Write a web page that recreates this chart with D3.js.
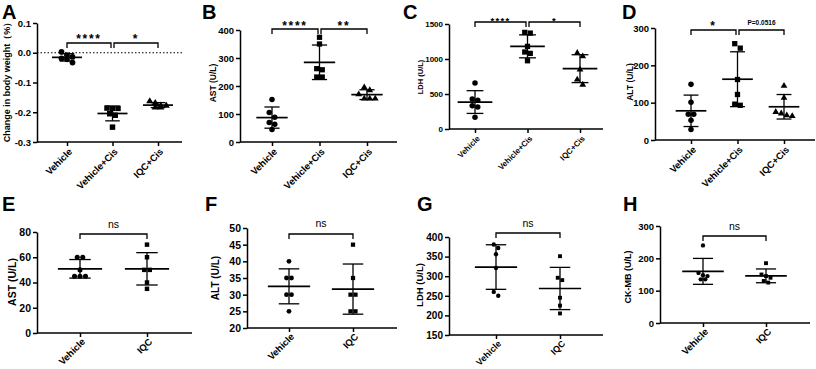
<!DOCTYPE html>
<html>
<head>
<meta charset="utf-8">
<script src="https://cdn.jsdelivr.net/npm/d3@7"></script>
<style>
  body { margin: 0; background: #fff; }
  svg { font-family: "Liberation Sans", Arial, sans-serif; font-weight: bold; }
</style>
</head>
<body>
<div id="chart"></div>
<script>

/* Data */
var catsThree = ["Vehicle", "Vehicle+Cis", "IQC+Cis"];
var catsTwo = ["Vehicle", "IQC"];

// A: change in body weight
var weightVehicle = [-0.014, -0.008, 0.003, -0.019, -0.022, -0.033];
var weightCis = [-0.187, -0.187, -0.186, -0.205, -0.21, -0.25];
var weightIqcCis = [-0.169, -0.178, -0.178, -0.163, -0.184, -0.184];
// B: AST
var astVehicle = [152, 105, 88, 70, 63, 45];
var astCis = [374, 350, 262, 258, 232, 232];
var astIqcCis = [195, 185, 170, 155, 155, 155];
// C: LDH
var ldhVehicle = [657, 410, 429, 333, 314, 167];
var ldhCis = [1380, 1370, 1180, 1080, 1100, 975];
var ldhIqcCis = [1086, 1038, 848, 705, 633];
// D: ALT
var altVehicle = [149, 101, 69, 69, 53, 28];
var altCis = [246, 258, 162, 122, 96, 93];
var altIqcCis = [145, 113, 75, 71, 66, 64];
// E-H: IQC alone
var astNormVehicle = [60, 60, 50, 45, 45, 45];
var astNormIqc = [70, 60, 50, 50, 40, 35];
var altNormVehicle = [40, 35, 35, 30, 30, 25];
var altNormIqc = [45, 35, 30, 30, 25, 25];
var ldhNormVehicle = [381, 372, 356, 321, 260, 250];
var ldhNormIqc = [351, 296, 290, 245, 225, 205];
var ckmbNormVehicle = [240, 155, 148, 145, 135, 135];
var ckmbNormIqc = [185, 150, 145, 140, 130, 125];

// tick values
var ticksA = [-0.3, -0.2, -0.1, 0, 0.1];
var ticksB = [0, 100, 200, 300, 400];
var ticksC = [0, 500, 1000, 1500];
var ticksD = [0, 100, 200, 300];
var ticksE = [0, 20, 40, 60, 80];
var ticksF = [20, 25, 30, 35, 40, 45, 50];
var ticksG = [150, 200, 250, 300, 350, 400];
var ticksH = [0, 100, 200, 300];

// significance labels
var sigA = ["****", "*"];
var sigB = ["****", "**"];
var sigC = ["****", "*"];
var sigD = ["*", "P=0.0516"];
var sigNs = ["ns"];


var svg = d3.select("#chart").append("svg")
  .attr("width", 816)
  .attr("height", 369);

var shapes = [d3.symbolCircle, d3.symbolSquare, d3.symbolTriangle];

// spread points that sit on the same height side by side (like a scatter dot plot)
function swarm(vals, y, d) {
  var idx = vals.map((v, i) => i).sort((a, b) => y(vals[a]) - y(vals[b]));
  var rows = [], cur = [];
  idx.forEach((i) => {
    if (cur.length && y(vals[i]) - y(vals[cur[0]]) > d) { rows.push(cur); cur = []; }
    cur.push(i);
  });
  if (cur.length) rows.push(cur);
  var off = vals.map(() => 0);
  rows.forEach((r) => r.forEach((i, k) => { off[i] = (k - (r.length - 1) / 2) * d; }));
  return off;
}

function drawPanel(p) {
  var g = svg.append("g");
  var x = d3.scalePoint().domain(p.cats).range([p.c0, p.c1]);
  var y = d3.scaleLinear().domain(p.domain).range([p.bottom, p.top]);
  var step = (p.c1 - p.c0) / (p.cats.length - 1);

  // panel letter
  g.append("text").attr("x", p.letter[0]).attr("y", p.letter[1])
    .attr("font-size", 20).text(p.id);

  // y axis
  var ya = g.append("g")
    .attr("transform", "translate(" + p.axX + ",0)")
    .call(d3.axisLeft(y).tickValues(p.ticks).tickSize(4).tickSizeOuter(0).tickFormat(p.fmt));
  ya.selectAll("text").attr("x", -6).attr("font-size", p.tickFont);

  // x axis
  var xa = g.append("g")
    .attr("transform", "translate(0," + p.bottom + ")")
    .call(d3.axisBottom(x).tickSize(4).tickSizeOuter(0));
  xa.select(".domain").remove();
  xa.append("line").attr("x1", p.axX).attr("x2", p.axEnd).attr("stroke", "#000").attr("stroke-width", 1.5);
  xa.selectAll("text")
    .attr("x", 0).attr("y", 0).attr("dy", "0.35em")
    .attr("text-anchor", "end")
    .attr("font-size", p.xFont)
    .attr("transform", "translate(3," + p.labOff + ") rotate(-45)");

  g.selectAll(".domain, .tick line").attr("stroke", "#000").attr("stroke-width", 1.5);
  g.selectAll(".tick text").attr("fill", "#000").attr("font-family", null).attr("font-weight", "bold");

  // y title
  g.append("text")
    .attr("transform", "translate(" + p.yTitle[0] + "," + p.yTitle[1] + ") rotate(-90)")
    .attr("text-anchor", "middle").attr("dy", "0.35em")
    .attr("font-size", p.yTitleFont)
    .text(p.yLabel);

  // zero reference line
  if (p.zeroLine) {
    g.append("line").attr("x1", p.axX).attr("x2", p.axEnd)
      .attr("y1", y(0)).attr("y2", y(0))
      .attr("stroke", "#000").attr("stroke-width", 1).attr("stroke-dasharray", "1.5,2");
  }

  // points + mean and SD
  p.series.forEach((vals, i) => {
    var cx = x(p.cats[i]);
    var off = swarm(vals, y, p.dot);
    g.append("g").selectAll("path").data(vals).enter()
      .append("path")
        .attr("d", d3.symbol().type(shapes[i]).size(p.symSize[i]))
        .attr("transform", (d, j) => "translate(" + (cx + off[j]) + "," + y(d) + ")")
        .attr("fill", "#000");

    var m = d3.mean(vals), s = d3.deviation(vals);
    var cap = step * 0.16, half = step * 0.33;
    var eb = g.append("g").attr("stroke", "#000").attr("stroke-width", 1.3);
    eb.append("line").attr("x1", cx).attr("x2", cx).attr("y1", y(m - s)).attr("y2", y(m + s));
    eb.append("line").attr("x1", cx - cap).attr("x2", cx + cap).attr("y1", y(m - s)).attr("y2", y(m - s));
    eb.append("line").attr("x1", cx - cap).attr("x2", cx + cap).attr("y1", y(m + s)).attr("y2", y(m + s));
    eb.append("line").attr("x1", cx - half).attr("x2", cx + half).attr("y1", y(m)).attr("y2", y(m))
      .attr("stroke-width", 1.7);
  });

  // significance brackets
  var n = p.cats.length;
  p.sig.forEach((lab, i) => {
    var x1 = x(p.cats[i]) + (i > 0 ? 1.5 : 0);
    var x2 = x(p.cats[i + 1]) - (i + 1 < n - 1 ? 1.5 : 0);
    g.append("path")
      .attr("d", "M" + x1 + "," + (p.brTop + 5) + "V" + p.brTop + "H" + x2 + "V" + (p.brTop + 5))
      .attr("fill", "none").attr("stroke", "#000").attr("stroke-width", 1.3);
    var t = g.append("text").attr("x", (x1 + x2) / 2).attr("text-anchor", "middle").text(lab);
    if (lab[0] === "*") {
      t.attr("y", p.sigY + 0.57 * p.starFont).attr("font-size", p.starFont).attr("letter-spacing", p.starFont / 7);
    } else if (lab === "ns") {
      t.attr("y", p.sigY + 0.27 * 10.5).attr("font-size", 10.5).attr("font-weight", "normal");
    } else {
      t.attr("y", p.sigY + 0.36 * 6.5).attr("font-size", 6.5);
    }
  });
}

var fmt1 = (d) => d.toFixed(1);
var fmt0 = (d) => String(d);

drawPanel({ id: "A", letter: [2, 19], cats: catsThree, series: [weightVehicle, weightCis, weightIqcCis],
  domain: [-0.3, 0.1], ticks: ticksA, fmt: fmt1, axX: 37, axEnd: 182, top: 23, bottom: 142, c0: 67, c1: 158,
  tickFont: 9.5, xFont: 9.5, labOff: 8, yLabel: "Change in body weight（%）", yTitle: [7, 80], yTitleFont: 9,
  zeroLine: true, dot: 5.5, symSize: [26, 30, 22], sig: sigA, brTop: 43, sigY: 36, starFont: 12 });

drawPanel({ id: "B", letter: [202, 19], cats: catsThree, series: [astVehicle, astCis, astIqcCis],
  domain: [0, 400], ticks: ticksB, fmt: fmt0, axX: 240, axEnd: 397, top: 30, bottom: 142, c0: 272, c1: 367,
  tickFont: 9.5, xFont: 9.5, labOff: 8, yLabel: "AST (U/L)", yTitle: [213, 83], yTitleFont: 8.5,
  dot: 5.5, symSize: [24, 28, 20], sig: sigB, brTop: 29, sigY: 23, starFont: 12 });

drawPanel({ id: "C", letter: [403, 19], cats: catsThree, series: [ldhVehicle, ldhCis, ldhIqcCis],
  domain: [0, 1500], ticks: ticksC, fmt: fmt0, axX: 449, axEnd: 603, top: 24, bottom: 129, c0: 475, c1: 580,
  tickFont: 8, xFont: 8, labOff: 8, yLabel: "LDH (U/L)", yTitle: [420, 77], yTitleFont: 7.5,
  dot: 5.5, symSize: [24, 28, 20], sig: sigC, brTop: 22, sigY: 19, starFont: 9.5 });

drawPanel({ id: "D", letter: [622, 19], cats: catsThree, series: [altVehicle, altCis, altIqcCis],
  domain: [0, 300], ticks: ticksD, fmt: fmt0, axX: 655, axEnd: 815, top: 28, bottom: 140, c0: 691, c1: 784,
  tickFont: 9.5, xFont: 9.5, labOff: 8, yLabel: "ALT (U/L)", yTitle: [630, 82], yTitleFont: 8.5,
  dot: 5.5, symSize: [24, 28, 20], sig: sigD, brTop: 30, sigY: 23, starFont: 12 });

drawPanel({ id: "E", letter: [2, 211], cats: catsTwo, series: [astNormVehicle, astNormIqc],
  domain: [0, 80], ticks: ticksE, fmt: fmt0, axX: 37, axEnd: 192, top: 232, bottom: 333, c0: 80, c1: 147,
  tickFont: 10.5, xFont: 9.5, labOff: 7, yLabel: "AST (U/L)", yTitle: [12, 282], yTitleFont: 10.5,
  dot: 5.5, symSize: [20, 20], sig: sigNs, brTop: 234, sigY: 225, starFont: 12 });

drawPanel({ id: "F", letter: [205, 211], cats: catsTwo, series: [altNormVehicle, altNormIqc],
  domain: [20, 50], ticks: ticksF, fmt: fmt0, axX: 247, axEnd: 397, top: 228, bottom: 328, c0: 289, c1: 353,
  tickFont: 10.5, xFont: 9.5, labOff: 7, yLabel: "ALT (U/L)", yTitle: [215, 278], yTitleFont: 10,
  dot: 5, symSize: [18, 18], sig: sigNs, brTop: 234, sigY: 224, starFont: 12 });

drawPanel({ id: "G", letter: [417, 211], cats: catsTwo, series: [ldhNormVehicle, ldhNormIqc],
  domain: [150, 400], ticks: ticksG, fmt: fmt0, axX: 449, axEnd: 603, top: 237, bottom: 335, c0: 496, c1: 560,
  tickFont: 10, xFont: 9, labOff: 7, yLabel: "LDH (U/L)", yTitle: [420, 285], yTitleFont: 9.5,
  dot: 4.5, symSize: [15, 15], sig: sigNs, brTop: 233, sigY: 224, starFont: 12 });

drawPanel({ id: "H", letter: [623, 211], cats: catsTwo, series: [ckmbNormVehicle, ckmbNormIqc],
  domain: [0, 300], ticks: ticksH, fmt: fmt0, axX: 660, axEnd: 810, top: 226, bottom: 323, c0: 703, c1: 766,
  tickFont: 9.5, xFont: 9.5, labOff: 7, yLabel: "CK-MB (U/L)", yTitle: [628, 277], yTitleFont: 9,
  dot: 4.5, symSize: [15, 15], sig: sigNs, brTop: 236, sigY: 227, starFont: 12 });

</script>
</body>
</html>
